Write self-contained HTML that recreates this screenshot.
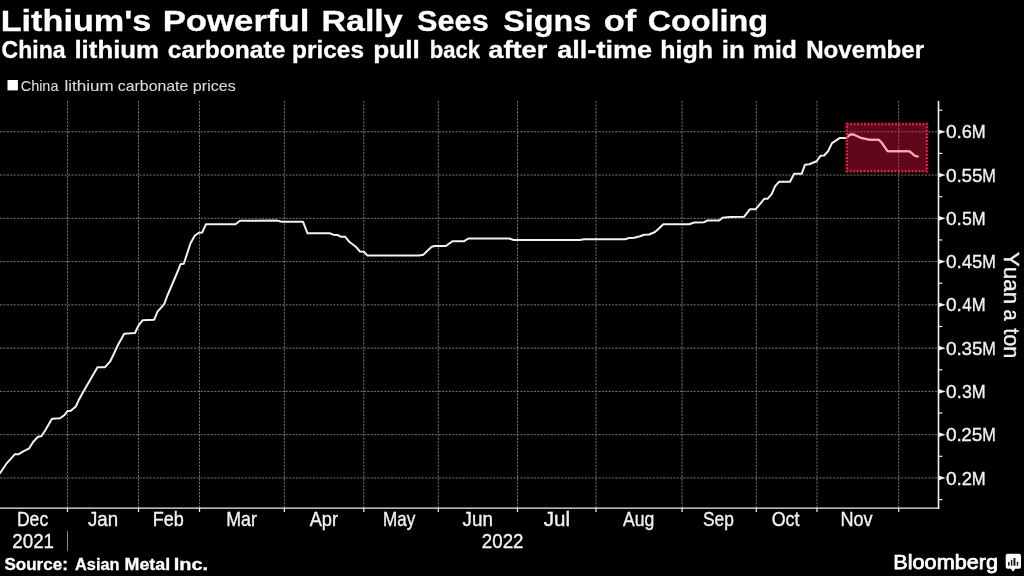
<!DOCTYPE html>
<html><head><meta charset="utf-8"><title>Lithium's Powerful Rally Sees Signs of Cooling</title>
<style>
html,body{margin:0;padding:0;background:#000;}
body{width:1024px;height:576px;overflow:hidden;font-family:"Liberation Sans",sans-serif;}
svg{display:block;will-change:transform;}
text{font-family:"Liberation Sans",sans-serif;fill:#f2f2f2;font-kerning:none;stroke:#f2f2f2;stroke-width:0.35px;}
.b{font-weight:bold;fill:#fff;stroke:#fff;stroke-width:0.3px;}
</style></head><body>
<svg width="1024" height="576" viewBox="0 0 1024 576">
<rect width="1024" height="576" fill="#000"/>
<text class="b" x="0.71" y="30.50" font-size="30.40" textLength="150.69" lengthAdjust="spacingAndGlyphs">Lithium&#39;s</text>
<text class="b" x="162.67" y="30.50" font-size="30.40" textLength="146.79" lengthAdjust="spacingAndGlyphs">Powerful</text>
<text class="b" x="321.48" y="30.50" font-size="30.40" textLength="81.21" lengthAdjust="spacingAndGlyphs">Rally</text>
<text class="b" x="417.12" y="30.50" font-size="30.40" textLength="71.64" lengthAdjust="spacingAndGlyphs">Sees</text>
<text class="b" x="503.32" y="30.50" font-size="30.40" textLength="88.01" lengthAdjust="spacingAndGlyphs">Signs</text>
<text class="b" x="603.65" y="30.50" font-size="30.40" textLength="32.53" lengthAdjust="spacingAndGlyphs">of</text>
<text class="b" x="647.67" y="30.50" font-size="30.40" textLength="120.49" lengthAdjust="spacingAndGlyphs">Cooling</text>
<text class="b" x="1.55" y="58.30" font-size="23.20" textLength="64.05" lengthAdjust="spacingAndGlyphs">China</text>
<text class="b" x="74.45" y="58.30" font-size="23.20" textLength="84.66" lengthAdjust="spacingAndGlyphs">lithium</text>
<text class="b" x="167.79" y="58.30" font-size="23.20" textLength="117.55" lengthAdjust="spacingAndGlyphs">carbonate</text>
<text class="b" x="292.14" y="58.30" font-size="23.20" textLength="71.86" lengthAdjust="spacingAndGlyphs">prices</text>
<text class="b" x="373.27" y="58.30" font-size="23.20" textLength="46.58" lengthAdjust="spacingAndGlyphs">pull</text>
<text class="b" x="429.80" y="58.30" font-size="23.20" textLength="50.18" lengthAdjust="spacingAndGlyphs">back</text>
<text class="b" x="488.20" y="58.30" font-size="23.20" textLength="59.21" lengthAdjust="spacingAndGlyphs">after</text>
<text class="b" x="557.21" y="58.30" font-size="23.20" textLength="94.97" lengthAdjust="spacingAndGlyphs">all-time</text>
<text class="b" x="660.25" y="58.30" font-size="23.20" textLength="52.80" lengthAdjust="spacingAndGlyphs">high</text>
<text class="b" x="721.69" y="58.30" font-size="23.20" textLength="23.01" lengthAdjust="spacingAndGlyphs">in</text>
<text class="b" x="753.07" y="58.30" font-size="23.20" textLength="43.85" lengthAdjust="spacingAndGlyphs">mid</text>
<text class="b" x="806.19" y="58.30" font-size="23.20" textLength="117.93" lengthAdjust="spacingAndGlyphs">November</text>
<rect x="7.5" y="80" width="10.4" height="10.4" fill="#fff"/>
<text x="20.77" y="90.60" font-size="15.00" textLength="37.63" lengthAdjust="spacingAndGlyphs" style="fill:#dadada;stroke-width:0.12px;stroke:#dadada">China</text>
<text x="64.45" y="90.60" font-size="15.00" textLength="49.17" lengthAdjust="spacingAndGlyphs" style="fill:#dadada;stroke-width:0.12px;stroke:#dadada">lithium</text>
<text x="117.83" y="90.60" font-size="15.00" textLength="70.48" lengthAdjust="spacingAndGlyphs" style="fill:#dadada;stroke-width:0.12px;stroke:#dadada">carbonate</text>
<text x="192.87" y="90.60" font-size="15.00" textLength="42.81" lengthAdjust="spacingAndGlyphs" style="fill:#dadada;stroke-width:0.12px;stroke:#dadada">prices</text>
<g stroke="#8e8e8e" stroke-width="0.8" stroke-dasharray="2.2 1.2" fill="none">
<path d="M0 477.95 H938.5"/>
<path d="M0 434.68 H938.5"/>
<path d="M0 391.41 H938.5"/>
<path d="M0 348.14 H938.5"/>
<path d="M0 304.87 H938.5"/>
<path d="M0 261.60 H938.5"/>
<path d="M0 218.33 H938.5"/>
<path d="M0 175.06 H938.5"/>
<path d="M0 131.79 H938.5"/>
<path d="M67.50 101.0 V508.1"/>
<path d="M138.50 101.0 V508.1"/>
<path d="M199.50 101.0 V508.1"/>
<path d="M284.40 101.0 V508.1"/>
<path d="M363.80 101.0 V508.1"/>
<path d="M438.30 101.0 V508.1"/>
<path d="M517.50 101.0 V508.1"/>
<path d="M596.00 101.0 V508.1"/>
<path d="M682.10 101.0 V508.1"/>
<path d="M756.30 101.0 V508.1"/>
<path d="M817.00 101.0 V508.1"/>
<path d="M898.70 101.0 V508.1"/>
</g>
<path d="M0.0 473.3 L6.7 463.3 L15.0 454.2 L18.7 454.2 L23.3 451.3 L29.2 448.3 L33.3 441.7 L38.0 436.7 L41.3 436.3 L45.0 430.8 L52.0 418.7 L60.0 418.3 L64.2 415.3 L67.5 411.0 L70.8 410.8 L75.8 406.5 L79.2 399.2 L83.3 391.7 L97.5 367.2 L105.0 367.2 L110.0 361.7 L113.3 355.0 L117.5 345.8 L120.8 340.0 L124.2 333.7 L135.0 333.0 L138.3 325.8 L142.5 320.3 L154.2 319.7 L157.5 311.7 L164.2 304.2 L167.2 296.0 L178.3 270.0 L180.5 264.2 L183.8 263.7 L190.5 243.3 L194.7 235.8 L198.8 232.8 L202.2 232.5 L206.0 224.2 L235.5 224.2 L240.0 220.8 L276.7 220.5 L281.7 221.7 L303.0 221.7 L307.5 233.3 L330.0 233.3 L333.3 234.7 L337.5 235.0 L340.8 236.7 L345.0 236.7 L349.2 241.7 L355.8 246.7 L360.0 251.5 L363.9 251.7 L367.5 255.6 L419.2 255.5 L423.3 254.7 L431.7 246.7 L435.0 246.0 L445.8 246.0 L452.5 241.2 L464.2 241.2 L468.3 238.5 L509.2 238.5 L513.8 240.0 L580.0 240.0 L584.2 239.2 L625.0 239.2 L629.2 238.0 L634.2 237.7 L640.0 236.3 L644.2 234.7 L649.2 234.5 L655.0 232.0 L659.2 228.3 L663.3 224.2 L689.2 224.2 L694.2 222.5 L704.2 222.2 L707.5 220.5 L719.2 220.5 L722.5 217.8 L730.0 217.0 L744.2 216.7 L750.0 209.2 L755.8 209.2 L764.2 198.8 L767.5 198.8 L771.7 194.2 L775.0 186.3 L779.2 181.7 L790.0 181.7 L794.2 173.8 L801.7 173.8 L805.0 164.7 L809.2 164.2 L816.7 161.3 L820.5 155.8 L824.2 155.5 L828.3 150.8 L832.0 143.1 L839.5 138.1 L846.4 138.1 L850.1 134.6 L853.9 134.6 L861.4 138.1 L869.5 139.8 L878.9 139.8 L882.0 143.1 L887.6 151.2 L909.5 151.2 L914.5 155.6 L917.6 156.5" fill="none" stroke="#f2f2f2" stroke-width="2" stroke-linejoin="round" stroke-linecap="round"/>
<rect x="846.8" y="123.9" width="80.2" height="47.4" fill="#e4123c" fill-opacity="0.42"/>
<rect x="846.8" y="123.9" width="80.2" height="47.4" fill="none" stroke="#ee1a44" stroke-width="2.5" stroke-dasharray="1.9 1.54"/>
<clipPath id="bx"><rect x="847.8" y="124.9" width="78.2" height="45.4"/></clipPath>
<path d="M0.0 473.3 L6.7 463.3 L15.0 454.2 L18.7 454.2 L23.3 451.3 L29.2 448.3 L33.3 441.7 L38.0 436.7 L41.3 436.3 L45.0 430.8 L52.0 418.7 L60.0 418.3 L64.2 415.3 L67.5 411.0 L70.8 410.8 L75.8 406.5 L79.2 399.2 L83.3 391.7 L97.5 367.2 L105.0 367.2 L110.0 361.7 L113.3 355.0 L117.5 345.8 L120.8 340.0 L124.2 333.7 L135.0 333.0 L138.3 325.8 L142.5 320.3 L154.2 319.7 L157.5 311.7 L164.2 304.2 L167.2 296.0 L178.3 270.0 L180.5 264.2 L183.8 263.7 L190.5 243.3 L194.7 235.8 L198.8 232.8 L202.2 232.5 L206.0 224.2 L235.5 224.2 L240.0 220.8 L276.7 220.5 L281.7 221.7 L303.0 221.7 L307.5 233.3 L330.0 233.3 L333.3 234.7 L337.5 235.0 L340.8 236.7 L345.0 236.7 L349.2 241.7 L355.8 246.7 L360.0 251.5 L363.9 251.7 L367.5 255.6 L419.2 255.5 L423.3 254.7 L431.7 246.7 L435.0 246.0 L445.8 246.0 L452.5 241.2 L464.2 241.2 L468.3 238.5 L509.2 238.5 L513.8 240.0 L580.0 240.0 L584.2 239.2 L625.0 239.2 L629.2 238.0 L634.2 237.7 L640.0 236.3 L644.2 234.7 L649.2 234.5 L655.0 232.0 L659.2 228.3 L663.3 224.2 L689.2 224.2 L694.2 222.5 L704.2 222.2 L707.5 220.5 L719.2 220.5 L722.5 217.8 L730.0 217.0 L744.2 216.7 L750.0 209.2 L755.8 209.2 L764.2 198.8 L767.5 198.8 L771.7 194.2 L775.0 186.3 L779.2 181.7 L790.0 181.7 L794.2 173.8 L801.7 173.8 L805.0 164.7 L809.2 164.2 L816.7 161.3 L820.5 155.8 L824.2 155.5 L828.3 150.8 L832.0 143.1 L839.5 138.1 L846.4 138.1 L850.1 134.6 L853.9 134.6 L861.4 138.1 L869.5 139.8 L878.9 139.8 L882.0 143.1 L887.6 151.2 L909.5 151.2 L914.5 155.6 L917.6 156.5" fill="none" stroke="#f6aebb" stroke-width="2" stroke-linejoin="round" stroke-linecap="round" clip-path="url(#bx)"/>
<g stroke="#f2f2f2" fill="none" stroke-width="1.6">
<path d="M938.5 101.0 V508.9"/>
<path d="M0 508.1 H939.3" stroke-width="1.2"/>
</g>
<g fill="#f2f2f2" stroke="none">
<path d="M938.5 475.55 L945.7 477.95 L938.5 480.35 Z"/>
<path d="M938.5 432.28 L945.7 434.68 L938.5 437.08 Z"/>
<path d="M938.5 389.01 L945.7 391.41 L938.5 393.81 Z"/>
<path d="M938.5 345.74 L945.7 348.14 L938.5 350.54 Z"/>
<path d="M938.5 302.47 L945.7 304.87 L938.5 307.27 Z"/>
<path d="M938.5 259.20 L945.7 261.60 L938.5 264.00 Z"/>
<path d="M938.5 215.93 L945.7 218.33 L938.5 220.73 Z"/>
<path d="M938.5 172.66 L945.7 175.06 L938.5 177.46 Z"/>
<path d="M938.5 129.39 L945.7 131.79 L938.5 134.19 Z"/>
</g>
<g stroke="#f2f2f2" stroke-width="1.2" fill="none">
<path d="M938.5 499.58 h3.8"/>
<path d="M938.5 456.31 h3.8"/>
<path d="M938.5 413.04 h3.8"/>
<path d="M938.5 369.77 h3.8"/>
<path d="M938.5 326.50 h3.8"/>
<path d="M938.5 283.23 h3.8"/>
<path d="M938.5 239.96 h3.8"/>
<path d="M938.5 196.69 h3.8"/>
<path d="M938.5 153.42 h3.8"/>
<path d="M938.5 110.15 h3.8"/>
<path d="M67.50 508.1 v4"/>
<path d="M138.50 508.1 v4"/>
<path d="M199.50 508.1 v4"/>
<path d="M284.40 508.1 v4"/>
<path d="M363.80 508.1 v4"/>
<path d="M438.30 508.1 v4"/>
<path d="M517.50 508.1 v4"/>
<path d="M596.00 508.1 v4"/>
<path d="M682.10 508.1 v4"/>
<path d="M756.30 508.1 v4"/>
<path d="M817.00 508.1 v4"/>
<path d="M898.70 508.1 v4"/>
<path d="M67.5 531 V551" stroke="#8c8c8c" stroke-width="1"/>
</g>
<text x="946.00" y="484.55" font-size="19.20" textLength="15.94" lengthAdjust="spacingAndGlyphs">0.</text>
<text x="961.67" y="484.55" font-size="19.20" textLength="10.25" lengthAdjust="spacingAndGlyphs">2</text>
<text x="971.73" y="484.55" font-size="19.20" textLength="13.88" lengthAdjust="spacingAndGlyphs">M</text>
<text x="946.00" y="441.28" font-size="19.20" textLength="15.94" lengthAdjust="spacingAndGlyphs">0.</text>
<text x="961.24" y="441.28" font-size="19.20" textLength="21.16" lengthAdjust="spacingAndGlyphs">25</text>
<text x="982.16" y="441.28" font-size="19.20" textLength="13.57" lengthAdjust="spacingAndGlyphs">M</text>
<text x="946.00" y="398.01" font-size="19.20" textLength="15.94" lengthAdjust="spacingAndGlyphs">0.</text>
<text x="961.93" y="398.01" font-size="19.20" textLength="9.85" lengthAdjust="spacingAndGlyphs">3</text>
<text x="971.73" y="398.01" font-size="19.20" textLength="13.88" lengthAdjust="spacingAndGlyphs">M</text>
<text x="946.00" y="354.74" font-size="19.20" textLength="15.94" lengthAdjust="spacingAndGlyphs">0.</text>
<text x="961.48" y="354.74" font-size="19.20" textLength="20.91" lengthAdjust="spacingAndGlyphs">35</text>
<text x="982.16" y="354.74" font-size="19.20" textLength="13.57" lengthAdjust="spacingAndGlyphs">M</text>
<text x="946.00" y="311.47" font-size="19.20" textLength="15.94" lengthAdjust="spacingAndGlyphs">0.</text>
<text x="962.22" y="311.47" font-size="19.20" textLength="9.27" lengthAdjust="spacingAndGlyphs">4</text>
<text x="971.73" y="311.47" font-size="19.20" textLength="13.88" lengthAdjust="spacingAndGlyphs">M</text>
<text x="946.00" y="268.20" font-size="19.20" textLength="15.94" lengthAdjust="spacingAndGlyphs">0.</text>
<text x="961.77" y="268.20" font-size="19.20" textLength="20.60" lengthAdjust="spacingAndGlyphs">45</text>
<text x="982.16" y="268.20" font-size="19.20" textLength="13.57" lengthAdjust="spacingAndGlyphs">M</text>
<text x="946.00" y="224.93" font-size="19.20" textLength="15.94" lengthAdjust="spacingAndGlyphs">0.</text>
<text x="961.89" y="224.93" font-size="19.20" textLength="9.85" lengthAdjust="spacingAndGlyphs">5</text>
<text x="971.73" y="224.93" font-size="19.20" textLength="13.88" lengthAdjust="spacingAndGlyphs">M</text>
<text x="946.00" y="181.66" font-size="19.20" textLength="15.94" lengthAdjust="spacingAndGlyphs">0.</text>
<text x="961.45" y="181.66" font-size="19.20" textLength="20.94" lengthAdjust="spacingAndGlyphs">55</text>
<text x="982.16" y="181.66" font-size="19.20" textLength="13.57" lengthAdjust="spacingAndGlyphs">M</text>
<text x="946.00" y="138.39" font-size="19.20" textLength="15.94" lengthAdjust="spacingAndGlyphs">0.</text>
<text x="961.68" y="138.39" font-size="19.20" textLength="10.12" lengthAdjust="spacingAndGlyphs">6</text>
<text x="971.73" y="138.39" font-size="19.20" textLength="13.88" lengthAdjust="spacingAndGlyphs">M</text>
<text x="16.96" y="526.40" font-size="19.80" textLength="31.20" lengthAdjust="spacingAndGlyphs">Dec</text>
<text x="88.01" y="526.40" font-size="19.80" textLength="30.10" lengthAdjust="spacingAndGlyphs">Jan</text>
<text x="152.72" y="526.40" font-size="19.80" textLength="31.14" lengthAdjust="spacingAndGlyphs">Feb</text>
<text x="226.24" y="526.40" font-size="19.80" textLength="30.66" lengthAdjust="spacingAndGlyphs">Mar</text>
<text x="309.66" y="526.40" font-size="19.80" textLength="28.44" lengthAdjust="spacingAndGlyphs">Apr</text>
<text x="383.00" y="526.40" font-size="19.80" textLength="32.23" lengthAdjust="spacingAndGlyphs">May</text>
<text x="462.51" y="526.40" font-size="19.80" textLength="30.42" lengthAdjust="spacingAndGlyphs">Jun</text>
<text x="543.78" y="526.40" font-size="19.80" textLength="26.35" lengthAdjust="spacingAndGlyphs">Jul</text>
<text x="622.97" y="526.40" font-size="19.80" textLength="31.27" lengthAdjust="spacingAndGlyphs">Aug</text>
<text x="702.96" y="526.40" font-size="19.80" textLength="30.87" lengthAdjust="spacingAndGlyphs">Sep</text>
<text x="771.65" y="526.40" font-size="19.80" textLength="27.88" lengthAdjust="spacingAndGlyphs">Oct</text>
<text x="840.42" y="526.40" font-size="19.80" textLength="32.14" lengthAdjust="spacingAndGlyphs">Nov</text>
<text x="12.36" y="547.50" font-size="19.50" textLength="41.66" lengthAdjust="spacingAndGlyphs">2021</text>
<text x="481.86" y="547.50" font-size="19.50" textLength="41.58" lengthAdjust="spacingAndGlyphs">2022</text>
<text transform="translate(1003.8 251.81) rotate(90)" font-size="22" textLength="52.35" lengthAdjust="spacingAndGlyphs">Yuan</text>
<text transform="translate(1003.8 309.45) rotate(90)" font-size="22" textLength="11.15" lengthAdjust="spacingAndGlyphs">a</text>
<text transform="translate(1003.8 328.17) rotate(90)" font-size="22" textLength="30.24" lengthAdjust="spacingAndGlyphs">ton</text>
<text class="b" x="4.41" y="570.00" font-size="16.00" textLength="63.43" lengthAdjust="spacingAndGlyphs">Source:</text>
<text class="b" x="75.09" y="570.00" font-size="16.00" textLength="44.42" lengthAdjust="spacingAndGlyphs">Asian</text>
<text class="b" x="124.61" y="570.00" font-size="16.00" textLength="45.55" lengthAdjust="spacingAndGlyphs">Metal</text>
<text class="b" x="173.66" y="570.00" font-size="16.00" textLength="34.41" lengthAdjust="spacingAndGlyphs">Inc.</text>
<text x="893.38" y="569" font-size="20.2" textLength="104.57" lengthAdjust="spacingAndGlyphs" style="fill:#fff;stroke:#fff;stroke-width:0.75px">Bloomberg</text>
<path d="M1007.7 553.8 h11.3 a2 2 0 0 1 2 2 v10.85 a2 2 0 0 1 -2 2 h-3.7 l-2.2 3.1 l-2.2 -3.1 h-3.2 a2 2 0 0 1 -2 -2 v-10.85 a2 2 0 0 1 2 -2 Z" fill="#fff"/>
<g fill="#111"><rect x="1008" y="562.1" width="1.5" height="3.6"/><rect x="1010.9" y="559.9" width="1.4" height="5.8"/><rect x="1013.5" y="558" width="1.9" height="7.7"/><rect x="1016.8" y="561.8" width="1.4" height="3.9"/></g>
</svg></body></html>
